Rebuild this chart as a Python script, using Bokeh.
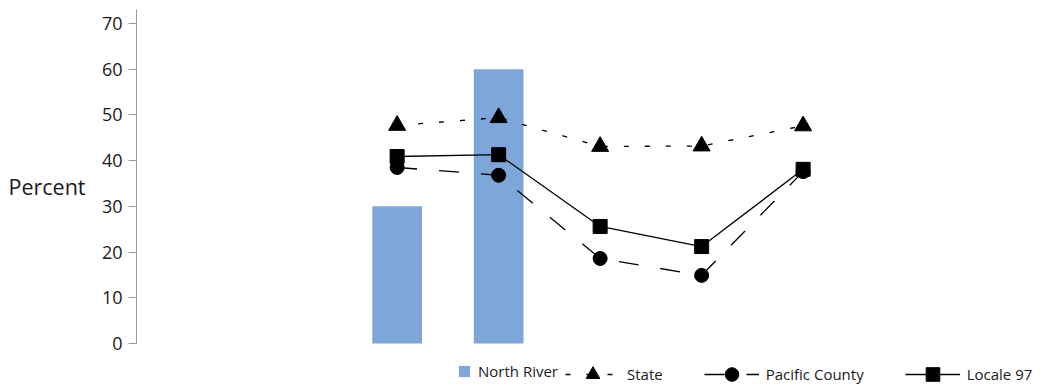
from bokeh.plotting import figure
from bokeh.models import Range1d, Legend, LegendItem, FixedTicker, ColumnDataSource, LinearAxis
from bokeh.embed import file_html
from bokeh.resources import INLINE

categories = ["Group 1", "Group 2", "Group 3", "Group 4", "Group 5"]
north_river = [30, 60, float("nan"), float("nan"), float("nan")]
state = [47.7, 49.4, 43.1, 43.2, 47.6]
pacific_county = [38.5, 36.8, 18.6, 14.9, 37.6]
locale_97 = [40.9, 41.3, 25.6, 21.2, 38.1]
y_ticks = [0, 10, 20, 30, 40, 50, 60, 70]
y_title = "Percent"

xs = list(range(len(categories)))
src = ColumnDataSource(dict(x=xs, cat=categories, nr=north_river, st=state,
                            pc=pacific_county, lc=locale_97))

FONT = "Open Sans"
Y_TOP = 73.06

# frame runs to the bottom of the canvas so the legend (inside the frame) is visible;
# the axis line is bounded to start at 0
p = figure(width=1045, height=386, output_backend="svg", toolbar_location=None,
           x_range=Range1d(-2.568, 6.26), y_range=Range1d(-9.407, Y_TOP),
           x_axis_location=None, min_border_left=136, min_border_right=13,
           min_border_top=9, min_border_bottom=0)
p.outline_line_color = None
p.grid.visible = False
p.background_fill_color = "white"

ya = p.yaxis[0]
ya.ticker = FixedTicker(ticks=y_ticks)
ya.bounds = (0, Y_TOP)
ya.axis_line_color = "#9a9a9a"
ya.major_tick_line_color = "#9a9a9a"
ya.major_tick_out = 8
ya.major_tick_in = 0
ya.minor_tick_line_color = None
ya.major_label_text_font = FONT
ya.major_label_text_font_size = "18px"
ya.major_label_text_color = "#1a1a1a"
ya.major_label_standoff = 6

# y title drawn as a tick label of a bare extra axis so it stays horizontal
title_axis = LinearAxis(ticker=FixedTicker(ticks=[34.3]),
                        major_label_overrides={34.3: y_title},
                        axis_line_color=None, major_tick_line_color=None,
                        minor_tick_line_color=None, major_tick_out=0, major_tick_in=0,
                        major_label_standoff=13,
                        major_label_text_font=FONT, major_label_text_font_size="21.5px",
                        major_label_text_color="#1a1a1a")
p.add_layout(title_axis, "left")

bars = p.vbar(x="x", top="nr", width=0.49, source=src, color="#7fa6d9", line_color=None)

st_line = p.line("x", "st", source=src, line_color="black", line_width=1.3, line_dash="5 16")
pc_line = p.line("x", "pc", source=src, line_color="black", line_width=1.3, line_dash="20 22")
lc_line = p.line("x", "lc", source=src, line_color="black", line_width=1.3)
st_pts = p.scatter("x", "st", source=src, marker="triangle", size=17, color="black")
lc_pts = p.scatter("x", "lc", source=src, marker="square", size=14, color="black")
pc_pts = p.scatter("x", "pc", source=src, marker="circle", size=14, color="black")

leg1 = Legend(items=[LegendItem(label="North River", renderers=[bars])],
              location=(321, 5), orientation="horizontal", glyph_width=14, glyph_height=14,
              label_height=14, label_standoff=7, padding=0, margin=0, spacing=0,
              label_text_font=FONT, label_text_font_size="15px", label_text_color="#1a1a1a",
              background_fill_alpha=0, border_line_alpha=0)
leg2 = Legend(items=[LegendItem(label="State", renderers=[st_line, st_pts]),
                     LegendItem(label="Pacific County", renderers=[pc_line, pc_pts]),
                     LegendItem(label="Locale 97", renderers=[lc_line, lc_pts])],
              location=(429, -5), orientation="horizontal", glyph_width=55, glyph_height=34,
              label_height=34, label_standoff=7, padding=0, margin=0, spacing=41,
              label_text_font=FONT, label_text_font_size="15px", label_text_color="#1a1a1a",
              background_fill_alpha=0, border_line_alpha=0)
p.add_layout(leg1, "center")
p.add_layout(leg2, "center")

open("out.html", "w").write(file_html(p, INLINE))
